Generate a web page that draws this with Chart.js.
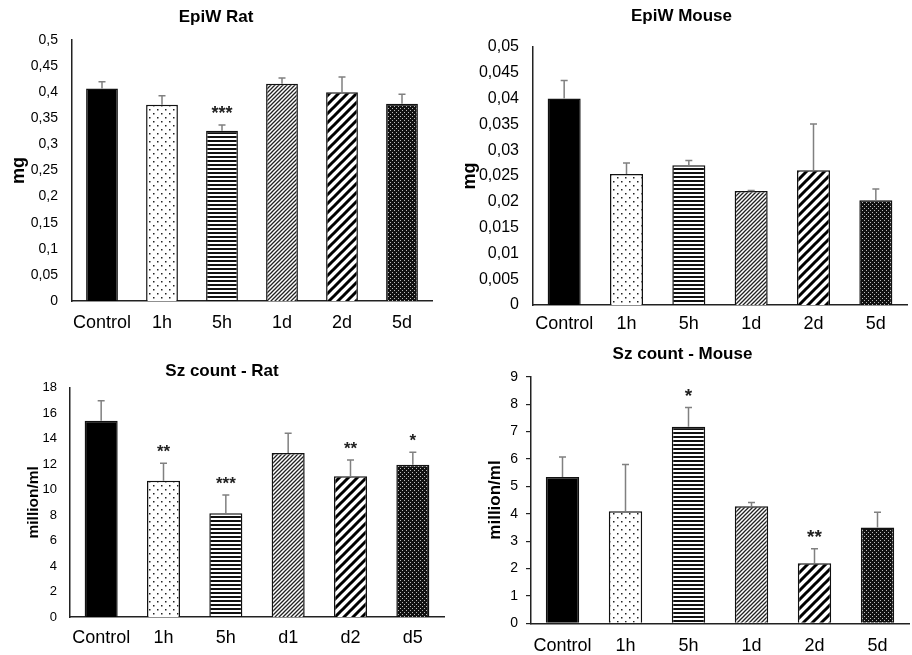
<!DOCTYPE html>
<html>
<head>
<meta charset="utf-8">
<script src="https://cdn.jsdelivr.net/npm/chart.js@4.4.0/dist/chart.umd.min.js"></script>
<style>
  body { margin: 0; background: #fff; width: 912px; height: 655px; position: relative; overflow: hidden; }
  .panel { position: absolute; }
</style>
</head>
<body>
<div class="panel" style="left:0;top:0;width:445px;height:335px"><canvas id="c1"></canvas></div>
<div class="panel" style="left:456px;top:0;width:456px;height:335px"><canvas id="c2"></canvas></div>
<div class="panel" style="left:0;top:340px;width:456px;height:315px"><canvas id="c3"></canvas></div>
<div class="panel" style="left:456px;top:340px;width:456px;height:315px"><canvas id="c4"></canvas></div>
<script>
// categories
const groupsTop = ['Control', '1h', '5h', '1d', '2d', '5d'];
const groupsRatSz = ['Control', '1h', '5h', 'd1', 'd2', 'd5'];
const groupsMouseSz = ['Control', '1h', '5h', '1d', '2d', '5d'];

// EpiW Rat (mg)
const epiwRat = [0.407, 0.376, 0.326, 0.416, 0.400, 0.378];
const epiwRatErr = [0.013, 0.017, 0.011, 0.011, 0.029, 0.018];
const epiwRatSig = ['', '', '***', '', '', ''];

// EpiW Mouse (mg)
const epiwMouse = [0.0400, 0.0254, 0.0271, 0.0221, 0.0261, 0.0203];
const epiwMouseErr = [0.0035, 0.0021, 0.0009, 0.0001, 0.0090, 0.0022];
const epiwMouseSig = ['', '', '', '', '', ''];

// Sz count - Rat (million/ml)
const szRat = [15.4, 10.7, 8.15, 12.87, 11.04, 11.96];
const szRatErr = [1.57, 1.37, 1.43, 1.55, 1.28, 0.97];
const szRatSig = ['', '**', '***', '', '**', '*'];

// Sz count - Mouse (million/ml)
const szMouse = [5.34, 4.09, 7.17, 4.27, 2.19, 3.50];
const szMouseErr = [0.73, 1.71, 0.71, 0.14, 0.53, 0.55];
const szMouseSig = ['', '', '*', '', '**', ''];

const FONT = "'Liberation Sans', Arial, sans-serif";

function tile(w, h, draw) {
  const c = document.createElement('canvas');
  c.width = w; c.height = h;
  const g = c.getContext('2d');
  draw(g);
  return g.createPattern(c, 'repeat');
}

function makeFills() {
  const dots = tile(8, 8, g => {
    g.fillStyle = '#fff'; g.fillRect(0, 0, 8, 8);
    g.fillStyle = '#222'; g.fillRect(1, 1, 1.5, 1.5); g.fillRect(5, 5, 1.5, 1.5);
  });
  const hlines = tile(4, 4, g => {
    g.fillStyle = '#fff'; g.fillRect(0, 0, 4, 4);
    g.fillStyle = '#111'; g.fillRect(0, 0, 4, 2);
  });
  const fineDiag = tile(4, 4, g => {
    g.fillStyle = '#fff'; g.fillRect(0, 0, 4, 4);
    g.strokeStyle = '#222'; g.lineWidth = 1.3;
    g.beginPath();
    g.moveTo(-1, 5); g.lineTo(5, -1);
    g.moveTo(-1, 1); g.lineTo(1, -1);
    g.moveTo(3, 5); g.lineTo(5, 3);
    g.stroke();
  });
  const wideDiag = tile(9, 9, g => {
    g.fillStyle = '#fff'; g.fillRect(0, 0, 9, 9);
    g.strokeStyle = '#000'; g.lineWidth = 3;
    g.beginPath();
    g.moveTo(-2, 11); g.lineTo(11, -2);
    g.moveTo(-2, 2); g.lineTo(2, -2);
    g.moveTo(7, 11); g.lineTo(11, 7);
    g.stroke();
  });
  const darkDots = tile(4, 4, g => {
    g.fillStyle = '#111'; g.fillRect(0, 0, 4, 4);
    g.fillStyle = '#bbb'; g.fillRect(0, 0, 1, 1); g.fillRect(2, 2, 1, 1);
  });
  return ['#000', dots, hlines, fineDiag, wideDiag, darkDots];
}

// draws upper error bars and significance stars
const errBars = {
  id: 'errBars',
  afterDatasetsDraw(chart) {
    const ds = chart.data.datasets[0];
    const meta = chart.getDatasetMeta(0);
    const y = chart.scales.y;
    const ctx = chart.ctx;
    ctx.save();
    meta.data.forEach((bar, i) => {
      const top = y.getPixelForValue(ds.data[i] + ds.err[i]);
      ctx.strokeStyle = '#808080';
      ctx.lineWidth = 1.5;
      ctx.beginPath();
      ctx.moveTo(bar.x, bar.y);
      ctx.lineTo(bar.x, top);
      ctx.moveTo(bar.x - 3.5, top);
      ctx.lineTo(bar.x + 3.5, top);
      ctx.stroke();
      if (ds.sig[i]) {
        ctx.fillStyle = '#222';
        ctx.font = 'bold ' + ds.starSize + 'px ' + FONT;
        ctx.textAlign = 'center';
        ctx.textBaseline = 'middle';
        ctx.fillText(ds.sig[i], bar.x, top - 11);
      }
    });
    ctx.restore();
  }
};

function makeChart(id, cfg) {
  return new Chart(document.getElementById(id), {
    type: 'bar',
    data: {
      labels: cfg.labels,
      datasets: [{
        data: cfg.values,
        err: cfg.err,
        sig: cfg.sig,
        starSize: cfg.starSize,
        backgroundColor: makeFills(),
        borderColor: '#111',
        borderWidth: 1.5,
        barPercentage: 0.53,
        categoryPercentage: 1
      }]
    },
    options: {
      responsive: true,
      maintainAspectRatio: false,
      animation: false,
      layout: { padding: { left: 0, right: cfg.padRight, top: 0, bottom: 0 } },
      plugins: {
        legend: { display: false },
        tooltip: { enabled: false },
        title: {
          display: true,
          text: cfg.title,
          color: '#000',
          font: { family: FONT, size: 17, weight: 'bold' },
          padding: { top: cfg.titleTop, bottom: cfg.titleBottom }
        }
      },
      scales: {
        x: {
          grid: { display: false, drawTicks: false },
          border: { display: true, color: '#222', width: 1.5 },
          ticks: { color: '#000', font: { family: FONT, size: 18 }, padding: cfg.xPad, maxRotation: 0, autoSkip: false },
          afterFit: s => { s.height = cfg.xHeight; }
        },
        y: {
          min: 0,
          max: cfg.max,
          grid: cfg.yTicks
            ? { display: true, drawOnChartArea: false, drawTicks: true, tickLength: 5, color: '#222', lineWidth: 1.2 }
            : { display: false, drawTicks: false },
          border: { display: true, color: '#222', width: 1.5 },
          ticks: {
            stepSize: cfg.step,
            color: '#000',
            font: { family: FONT, size: cfg.yFont },
            padding: cfg.yPad,
            callback: v => String(+v.toFixed(3)).replace('.', ',')
          },
          title: {
            display: true,
            text: cfg.yTitle,
            color: '#000',
            font: { family: FONT, size: cfg.yTitleSize, weight: 'bold' },
            padding: { top: cfg.yTitlePad, bottom: 0 }
          },
          afterFit: s => { s.width = cfg.yWidth; }
        }
      }
    },
    plugins: [errBars]
  });
}

makeChart('c1', {
  labels: groupsTop, values: epiwRat, err: epiwRatErr, sig: epiwRatSig, starSize: 18,
  title: 'EpiW Rat', titleTop: 6.8, titleBottom: 12.8,
  max: 0.5, step: 0.05, yFont: 14, yPad: 14, yTitle: 'mg', yTitleSize: 18, yTitlePad: 8, yWidth: 72,
  xPad: 11, xHeight: 34, padRight: 13, yTicks: false
});

makeChart('c2', {
  labels: groupsTop, values: epiwMouse, err: epiwMouseErr, sig: epiwMouseSig, starSize: 18,
  title: 'EpiW Mouse', titleTop: 5.8, titleBottom: 20.8,
  max: 0.05, step: 0.005, yFont: 16, yPad: 14, yTitle: 'mg', yTitleSize: 18, yTitlePad: 3, yWidth: 77,
  xPad: 8, xHeight: 30, padRight: 5, yTicks: false
});

makeChart('c3', {
  labels: groupsRatSz, values: szRat, err: szRatErr, sig: szRatSig, starSize: 17,
  title: 'Sz count - Rat', titleTop: 20.8, titleBottom: 6.5,
  max: 18, step: 2, yFont: 13, yPad: 13, yTitle: 'million/ml', yTitleSize: 15.5, yTitlePad: 24, yWidth: 70,
  xPad: 10, xHeight: 38, padRight: 12, yTicks: false
});

makeChart('c4', {
  labels: groupsMouseSz, values: szMouse, err: szMouseErr, sig: szMouseSig, starSize: 19,
  title: 'Sz count - Mouse', titleTop: 3.8, titleBottom: 12.5,
  max: 9, step: 1, yFont: 14, yPad: 8, yTitle: 'million/ml', yTitleSize: 17, yTitlePad: 29, yWidth: 75,
  xPad: 12, xHeight: 31.7, padRight: 3, yTicks: true
});
</script>
</body>
</html>
